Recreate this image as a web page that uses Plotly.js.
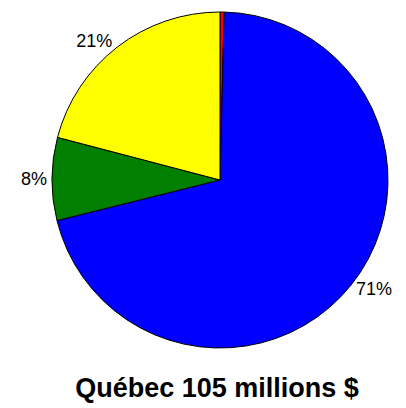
<!DOCTYPE html>
<html>
<head>
<meta charset="utf-8">
<script src="https://cdn.plot.ly/plotly-3.0.1.min.js"></script>
<style>html,body{margin:0;padding:0;background:#fff;}#chart{width:406px;height:408px;}</style>
</head>
<body>
<div id="chart"></div>
<script>
const categories = ["Autre", "Catégorie A", "Catégorie B", "Catégorie C"];
const values = [0.4, 71, 8, 21];
const percentLabels = ["", "71%", "8%", "21%"];
const sliceColors = ["#ff0000", "#0000ff", "#007f00", "#ffff00"];
const chartTitle = "Québec 105 millions $";

const trace = {
  type: "pie",
  labels: categories,
  values: values,
  text: percentLabels,
  textinfo: "text",
  textposition: "outside",
  sort: false,
  direction: "clockwise",
  rotation: 0,
  marker: { colors: sliceColors, line: { color: "#000000", width: 1 } },
  outsidetextfont: { family: "Liberation Sans, Arial, sans-serif", size: 18, color: "#000000" },
  showlegend: false,
  hoverinfo: "none",
  automargin: false,
  domain: { x: [52/406, 388/406], y: [59/408, 397/408] }
};

const layout = {
  width: 406,
  height: 408,
  margin: { l: 0, r: 0, t: 0, b: 0 },
  paper_bgcolor: "#ffffff",
  showlegend: false,
  title: {
    text: chartTitle,
    font: { family: "Liberation Sans, Arial, sans-serif", size: 27, color: "#000000", weight: "bold" },
    x: 217/406,
    xanchor: "center",
    xref: "paper",
    yref: "container",
    y: 20/408,
    yanchor: "middle"
  }
};

Plotly.newPlot("chart", [trace], layout, { staticPlot: true, displayModeBar: false });
</script>
</body>
</html>
